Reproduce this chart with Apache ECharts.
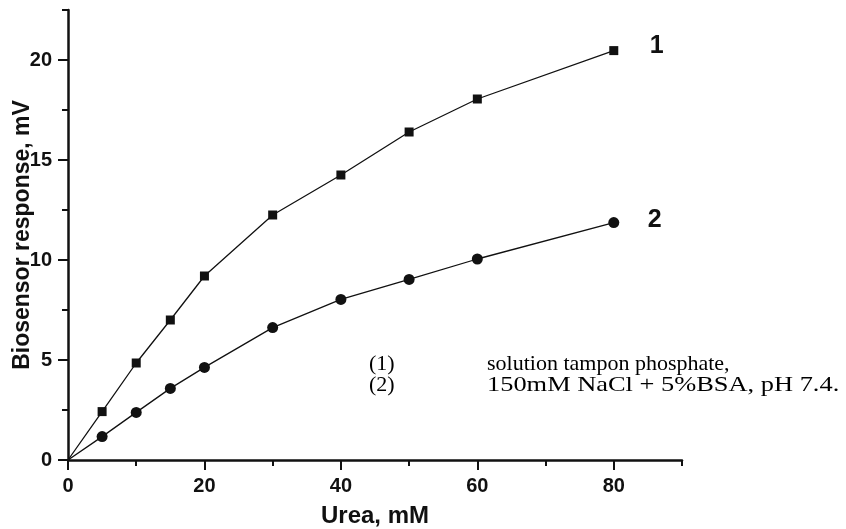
<!DOCTYPE html>
<html>
<head>
<meta charset="utf-8">
<script src="https://cdn.jsdelivr.net/npm/echarts@6/dist/echarts.min.js"></script>
<style>html,body{margin:0;padding:0;background:#fff;}#c{width:846px;height:529px;}</style>
</head>
<body>
<div id="c"></div>
<script>
// Data
const urea = [0, 5, 10, 15, 20, 30, 40, 50, 60, 80];
const response1 = [0, 2.42, 4.85, 7.0, 9.2, 12.25, 14.25, 16.4, 18.05, 20.47];
const response2 = [0, 1.17, 2.38, 3.58, 4.63, 6.62, 8.03, 9.03, 10.05, 11.87];
const seriesNames = ['1', '2'];
const xTickLabels = [0, 20, 40, 60, 80];
const yTickLabels = [0, 5, 10, 15, 20];
const noteKeys = ['(1)', '(2)'];
const noteTexts = ['solution tampon phosphate,', '150mM NaCl + 5%BSA, pH 7.4.'];

const ink = '#111';
const sans = 'Liberation Sans';

function toPoints(xs, ys) {
  return xs.map((x, i) => i === 0 ? { value: [x, ys[i]], symbol: 'none' } : [x, ys[i]]);
}

const chart = echarts.init(document.getElementById('c'), null, { renderer: 'canvas' });
const labelStyle = { color: ink, fontFamily: sans, fontWeight: 'bold', fontSize: 20 };

const serifFont = '22px "Liberation Serif"';
const noteScale = [1.0, 1.2];
const graphics = [];
noteKeys.forEach((k, i) => {
  graphics.push({ type: 'text', left: 369, top: 353 + i * 21, style: { text: k, fill: '#000', font: serifFont } });
  graphics.push({ type: 'text', left: 487, top: 353 + i * 21, scaleX: noteScale[i],
    style: { text: noteTexts[i], fill: '#000', font: serifFont } });
});

chart.setOption({
  animation: false,
  backgroundColor: '#fff',
  grid: { left: 68, right: 164, top: 10, bottom: 69, containLabel: false, outerBoundsMode: 'none' },
  xAxis: [
    {
      type: 'value', min: 0, max: 90, interval: 20, position: 'bottom',
      axisLine: { show: true, onZero: false, lineStyle: { color: ink, width: 2.5 } },
      axisTick: { show: true, length: 10, lineStyle: { color: ink, width: 2 }, customValues: xTickLabels },
      axisLabel: Object.assign({ margin: 16, customValues: xTickLabels }, labelStyle),
      splitLine: { show: false },
      name: 'Urea, mM', nameLocation: 'middle', nameGap: 44, nameMoveOverlap: false,
      nameTextStyle: { color: ink, fontFamily: sans, fontWeight: 'bold', fontSize: 24 }
    },
    {
      type: 'value', min: 0, max: 90, interval: 10, position: 'bottom', offset: 0,
      axisLine: { show: false },
      axisTick: { show: true, length: 6, lineStyle: { color: ink, width: 2 } },
      axisLabel: { show: false },
      splitLine: { show: false }
    }
  ],
  yAxis: [
    {
      type: 'value', min: 0, max: 22.5, interval: 5, position: 'left',
      axisLine: { show: true, onZero: false, lineStyle: { color: ink, width: 2.5 } },
      axisTick: { show: true, length: 10, lineStyle: { color: ink, width: 2 }, customValues: yTickLabels },
      axisLabel: Object.assign({ margin: 16, customValues: yTickLabels }, labelStyle),
      splitLine: { show: false },
      name: 'Biosensor response, mV', nameLocation: 'middle', nameGap: 34, nameMoveOverlap: false,
      nameTextStyle: { color: ink, fontFamily: sans, fontWeight: 'bold', fontSize: 23 }
    },
    {
      type: 'value', min: 0, max: 22.5, interval: 2.5, position: 'left', offset: 0,
      axisLine: { show: false },
      axisTick: { show: true, length: 6, lineStyle: { color: ink, width: 2 } },
      axisLabel: { show: false },
      splitLine: { show: false }
    }
  ],
  series: [
    {
      name: seriesNames[0], type: 'line', xAxisIndex: 0, yAxisIndex: 0,
      data: toPoints(urea, response1),
      symbol: 'rect', symbolSize: 9,
      lineStyle: { color: ink, width: 1.3 },
      itemStyle: { color: ink },
      endLabel: { show: true, formatter: seriesNames[0], distance: 36, offset: [0, -4],
        color: ink, fontFamily: sans, fontWeight: 'bold', fontSize: 25 }
    },
    {
      name: seriesNames[1], type: 'line', xAxisIndex: 0, yAxisIndex: 0,
      data: toPoints(urea, response2),
      symbol: 'circle', symbolSize: 11,
      lineStyle: { color: ink, width: 1.3 },
      itemStyle: { color: ink },
      endLabel: { show: true, formatter: seriesNames[1], distance: 34, offset: [0, -2],
        color: ink, fontFamily: sans, fontWeight: 'bold', fontSize: 25 }
    }
  ],
  graphic: graphics
});
</script>
</body>
</html>
